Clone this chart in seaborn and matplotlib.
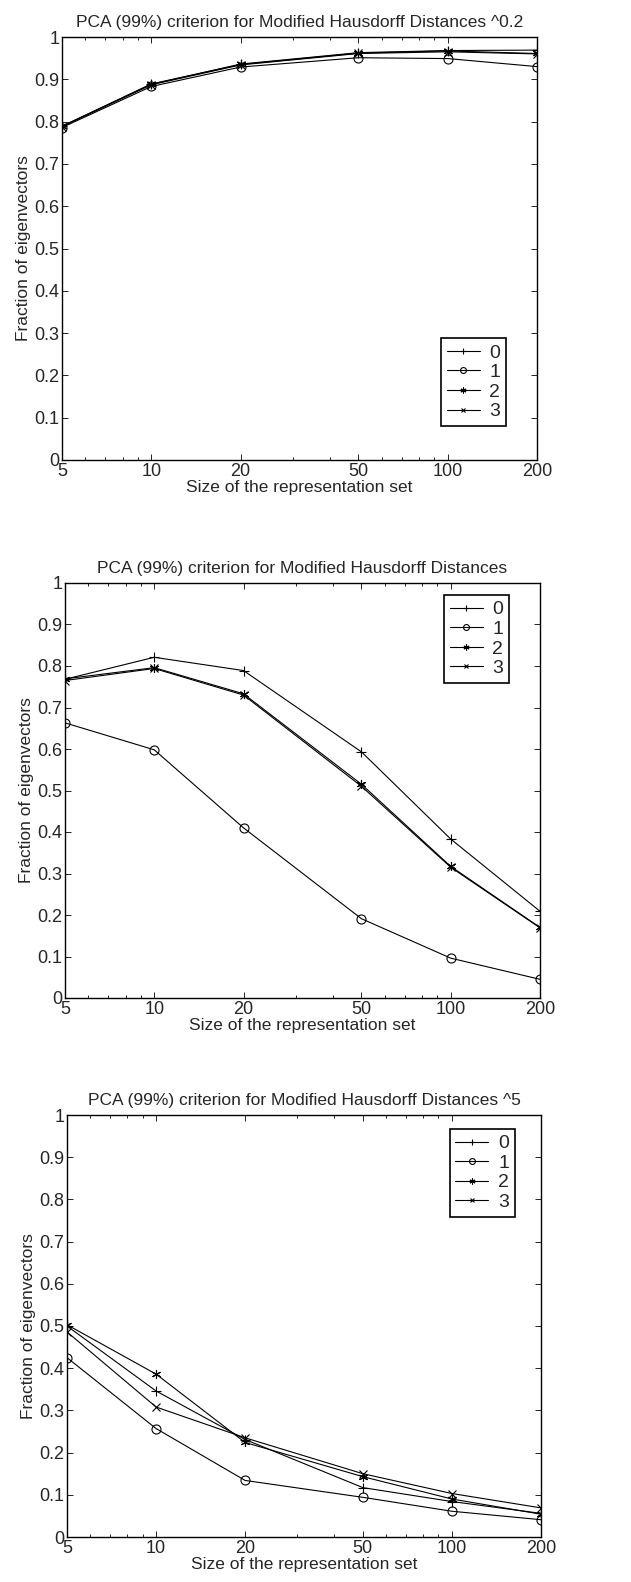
import matplotlib
matplotlib.use("Agg")
import matplotlib.pyplot as plt
import seaborn as sns
import numpy as np
from matplotlib.ticker import FixedLocator, NullFormatter, LogLocator

sizes = [5, 10, 20, 50, 100, 200]
series_names = ["0", "1", "2", "3"]

# Plot 1: ^0.2
p1_s0 = [0.789, 0.888, 0.936, 0.963, 0.968, 0.969]
p1_s1 = [0.786, 0.883, 0.929, 0.951, 0.949, 0.930]
p1_s2 = [0.789, 0.889, 0.935, 0.962, 0.967, 0.961]
p1_s3 = [0.788, 0.887, 0.934, 0.961, 0.965, 0.960]

# Plot 2: plain
p2_s0 = [0.768, 0.821, 0.789, 0.593, 0.383, 0.209]
p2_s1 = [0.663, 0.598, 0.410, 0.191, 0.096, 0.045]
p2_s2 = [0.769, 0.796, 0.733, 0.515, 0.317, 0.170]
p2_s3 = [0.765, 0.794, 0.730, 0.510, 0.315, 0.169]

# Plot 3: ^5
p3_s0 = [0.500, 0.346, 0.231, 0.117, 0.084, 0.056]
p3_s1 = [0.425, 0.257, 0.134, 0.094, 0.061, 0.041]
p3_s2 = [0.503, 0.386, 0.224, 0.143, 0.090, 0.054]
p3_s3 = [0.486, 0.308, 0.235, 0.150, 0.103, 0.069]

titles = [
    "PCA (99%) criterion for Modified Hausdorff Distances ^0.2",
    "PCA (99%) criterion for Modified Hausdorff Distances",
    "PCA (99%) criterion for Modified Hausdorff Distances ^5",
]
xlabel = "Size of the representation set"
ylabel = "Fraction of eigenvectors"
yticks = [0, 0.1, 0.2, 0.3, 0.4, 0.5, 0.6, 0.7, 0.8, 0.9, 1]
ytick_labels = ["0", "0.1", "0.2", "0.3", "0.4", "0.5", "0.6", "0.7", "0.8", "0.9", "1"]
xtick_labels = ["5", "10", "20", "50", "100", "200"]

sns.set_style("ticks")
plt.rcParams["font.family"] = ["Liberation Sans", "DejaVu Sans"]

fig = plt.figure(figsize=(6.31, 15.82), dpi=100)

W, H = 631.0, 1582.0
boxes = [(62, 37, 537, 460), (65, 583, 540, 998), (67, 1115, 541, 1537)]
legend_specs = [
    ("lower right", (0.935, 0.080)),
    ("upper right", (0.935, 0.971)),
    ("upper right", (0.945, 0.967)),
]
data = [
    [p1_s0, p1_s1, p1_s2, p1_s3],
    [p2_s0, p2_s1, p2_s2, p2_s3],
    [p3_s0, p3_s1, p3_s2, p3_s3],
]
markers = ["+", "o", (6, 2, 0), "x"]
msizes = [7, 6.5, 6.5, 5.5]

for i, (l, t, r, b) in enumerate(boxes):
    ax = fig.add_axes([l / W, 1 - b / H, (r - l) / W, (b - t) / H])
    ax.set_xscale("log")
    for name, vals, m, ms in zip(series_names, data[i], markers, msizes):
        sns.lineplot(x=sizes, y=vals, ax=ax, color="k", lw=0.8, marker=m, ms=ms,
                     mfc="none", mec="k", mew=0.8, label=name, legend=False)
    ax.set_xlim(5, 200)
    ax.set_ylim(0, 1)
    ax.xaxis.set_major_locator(FixedLocator(sizes))
    ax.set_xticklabels(xtick_labels)
    ax.xaxis.set_minor_locator(LogLocator(base=10, subs=np.arange(2, 10)))
    ax.xaxis.set_minor_formatter(NullFormatter())
    ax.set_yticks(yticks)
    ax.set_yticklabels(ytick_labels)
    ax.tick_params(which="both", direction="in", top=True, right=True, labelsize=13,
                   width=0.6, color="k", pad=2)
    ax.tick_params(which="major", length=4)
    ax.tick_params(which="minor", length=2.5)
    for s in ax.spines.values():
        s.set_linewidth(1.0)
        s.set_color("k")
    ax.set_title(titles[i], fontsize=12.5, pad=7)
    ax.set_xlabel(xlabel, fontsize=12.5, labelpad=0)
    ax.set_ylabel(ylabel, fontsize=12.5, labelpad=2)
    loc, anchor = legend_specs[i]
    leg = ax.legend(loc=loc, bbox_to_anchor=anchor, fontsize=14, frameon=True,
                    fancybox=False, edgecolor="k", framealpha=1, handlelength=1.7,
                    borderpad=0.3, labelspacing=0.1, handletextpad=0.5,
                    borderaxespad=0, markerscale=0.65)
    leg.get_frame().set_linewidth(1.2)

fig.savefig("out.png", dpi=100)
